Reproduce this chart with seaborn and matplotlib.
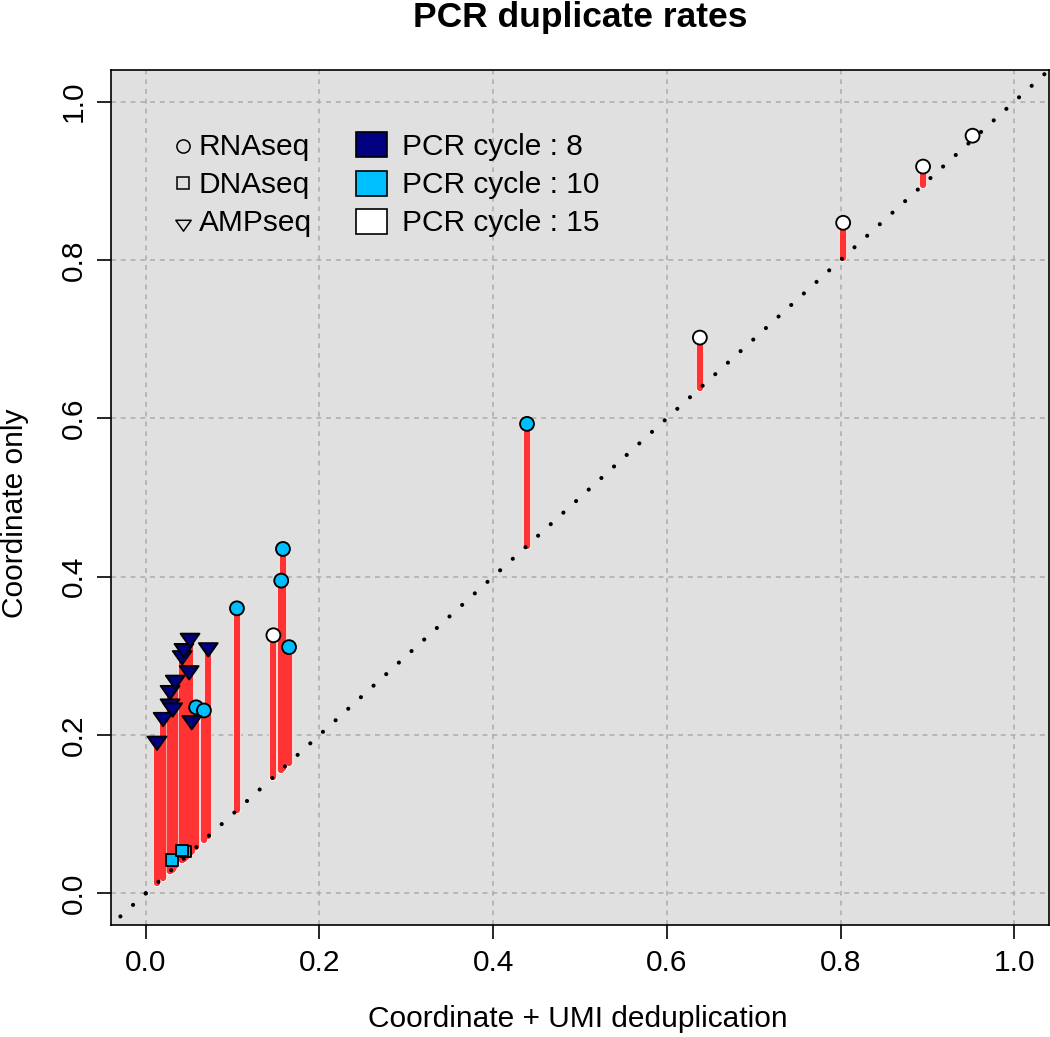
import matplotlib
matplotlib.use("Agg")
import matplotlib.pyplot as plt
import seaborn as sns
import pandas as pd
from matplotlib.lines import Line2D
from matplotlib.patches import Rectangle
from matplotlib.path import Path

# ---- data ----
assay = (["RNAseq"] * 5 + ["RNAseq"] * 7 + ["DNAseq"] * 3 + ["AMPseq"] * 12)
pcr_cycle = ([15] * 5 + [10] * 7 + [10] * 3 + [8] * 12)
umi_dedup = [0.952, 0.895, 0.803, 0.638, 0.147,
             0.439, 0.158, 0.156, 0.105, 0.165, 0.058, 0.067,
             0.030, 0.046, 0.042,
             0.013, 0.020, 0.028, 0.031, 0.028, 0.034, 0.050, 0.042, 0.044, 0.051, 0.072, 0.053]
coord_only = [0.957, 0.918, 0.847, 0.702, 0.326,
              0.593, 0.435, 0.395, 0.360, 0.311, 0.235, 0.231,
              0.042, 0.053, 0.054,
              0.193, 0.223, 0.240, 0.235, 0.257, 0.270, 0.282, 0.301, 0.310, 0.323, 0.311, 0.219]

assays = ["RNAseq", "DNAseq", "AMPseq"]
cycles = [8, 10, 15]
cycle_colors = {8: "#000080", 10: "#00BFFF", 15: "#FFFFFF"}
cycle_labels = [f"PCR cycle : {c}" for c in cycles]
ticks = [0.0, 0.2, 0.4, 0.6, 0.8, 1.0]
tick_labels = ["0.0", "0.2", "0.4", "0.6", "0.8", "1.0"]

# wide, point-down triangle like R's pch 25
tri_down = Path([(-1, 0.42), (1, 0.42), (0, -1.0), (-1, 0.42)],
                [Path.MOVETO, Path.LINETO, Path.LINETO, Path.CLOSEPOLY])
assay_markers = {"RNAseq": "o", "DNAseq": "s", "AMPseq": tri_down}

df = pd.DataFrame({"assay": assay, "pcr": pcr_cycle, "x": umi_dedup, "y": coord_only})

sns.set_theme(style="ticks")
plt.rcParams["font.family"] = ["Liberation Sans", "DejaVu Sans"]
for k in ["text.color", "axes.labelcolor", "xtick.color", "ytick.color", "axes.edgecolor"]:
    plt.rcParams[k] = "black"

W, H = 1050, 1037
FS = 21.5
fig = plt.figure(figsize=(W / 100, H / 100), dpi=100)


def fp(x, y):
    return (x / W, 1 - y / H)


L, R, T, B = 111, 1049, 70, 925
ax = fig.add_axes([L / W, 1 - B / H, (R - L) / W, (B - T) / H])
ax.set_facecolor("#E0E0E0")
ax.set_xlim(-0.04, 1.04)
ax.set_ylim(-0.04, 1.04)

# grid
for t in ticks:
    ax.axvline(t, color="#ABABAB", lw=1.1, ls=(0, (3.2, 3.2)), zorder=0)
    ax.axhline(t, color="#ABABAB", lw=1.1, ls=(0, (3.2, 3.2)), zorder=0)

# diagonal dotted line (phase anchored at the origin)
for end in (1.04, -0.04):
    ax.plot([0, end], [0, end], color="black", lw=3, ls=(0, (0.01, 4.1)),
            dash_capstyle="round", zorder=2)

# red segments from diagonal to point
for xi, yi in zip(df["x"], df["y"]):
    ax.plot([xi, xi], [xi, yi], color="white", lw=5.9, solid_capstyle="round", zorder=1.5)
    ax.plot([xi, xi], [xi, yi], color="#FF3333", lw=4.6, solid_capstyle="round", zorder=1.6)

# points
sizes = {"RNAseq": 100, "DNAseq": 68, "AMPseq": 185}
for a in assays:
    sub = df[df["assay"] == a]
    sns.scatterplot(data=sub, x="x", y="y", hue="pcr", palette=cycle_colors,
                    marker=assay_markers[a], s=sizes[a], edgecolor="black",
                    linewidth=1.35, legend=False, ax=ax, zorder=3)

ax.set_xlabel("")
ax.set_ylabel("")
ax.set_xticks(ticks)
ax.set_xticklabels(tick_labels)
ax.set_yticks(ticks)
ax.set_yticklabels(tick_labels, rotation=90, va="center")
ax.tick_params(axis="both", length=10, width=1.2, color="black", labelsize=FS, pad=7)
for s in ax.spines.values():
    s.set_linewidth(1.2)

fig.text(*fp(580, 27), "PCR duplicate rates", ha="center", va="baseline",
         fontsize=25.5, fontweight="bold")
fig.text(*fp(578, 1027), "Coordinate + UMI deduplication", ha="center",
         va="baseline", fontsize=FS)
fig.text(*fp(23, 513), "Coordinate only", ha="center", va="baseline",
         fontsize=FS, rotation=90, rotation_mode="anchor")

# legend (two columns, drawn in figure pixel positions)
row_base = [155, 193.3, 231]
row_mid = [145.7, 183.3, 223]
leg_ms = {"RNAseq": 9.5, "DNAseq": 8.5, "AMPseq": 11}
for a, yb, ym in zip(assays, row_base, row_mid):
    fig.add_artist(Line2D([182.7 / W], [1 - ym / H], ls="", marker=assay_markers[a],
                          mfc="none", mec="black", ms=leg_ms[a], mew=1.1,
                          transform=fig.transFigure))
    fig.text(*fp(198.5, yb), a, ha="left", va="baseline", fontsize=FS)
box_mid = [144.8, 183.2, 221.2]
for c, lab, yb, ym in zip(cycles, cycle_labels, row_base, box_mid):
    x0, y0 = fp(356, ym + 12.5)
    fig.add_artist(Rectangle((x0, y0), 30.7 / W, 25 / H, facecolor=cycle_colors[c],
                             edgecolor="black", lw=1.2, transform=fig.transFigure))
    fig.text(*fp(401.5, yb), lab, ha="left", va="baseline", fontsize=FS)

fig.savefig("out.png", dpi=100)
